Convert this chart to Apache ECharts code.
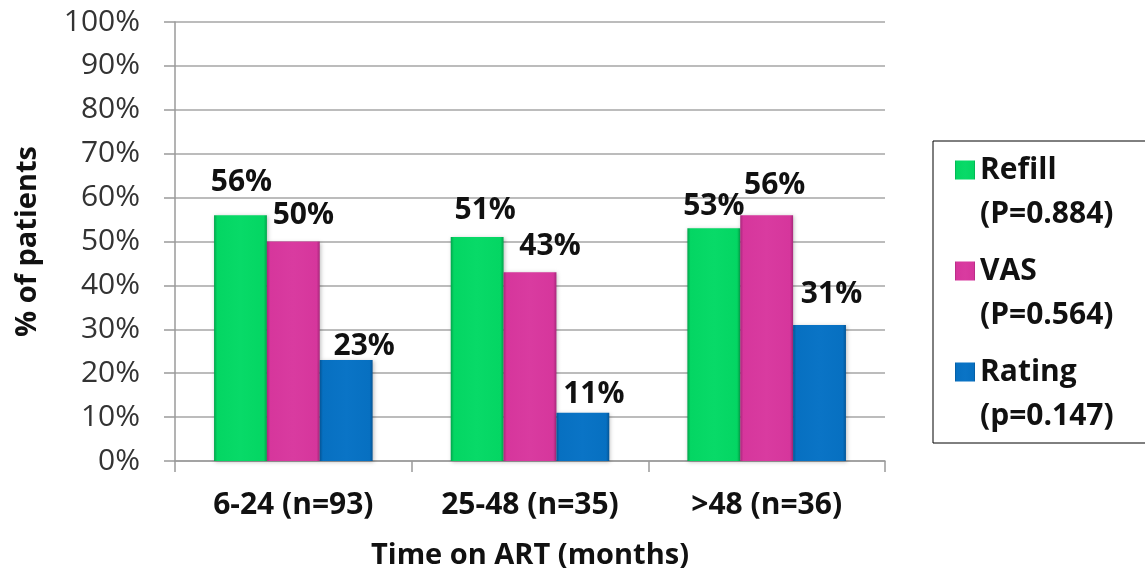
<!DOCTYPE html>
<html>
<head>
<meta charset="utf-8">
<script src="https://cdn.jsdelivr.net/npm/echarts@6/dist/echarts.min.js"></script>
<style>
  html, body { margin: 0; padding: 0; background: #fff; }
  #chart { width: 1145px; height: 575px; }
</style>
</head>
<body>
<div id="chart"></div>
<script>
// Time-on-ART groups and adherence measures (% of patients)
const categories = ['6-24 (n=93)', '25-48 (n=35)', '>48 (n=36)'];
const refill = [56, 51, 53];
const vas = [50, 43, 56];
const rating = [23, 11, 31];
const legendNames = ['Refill', 'VAS', 'Rating'];
const legendNotes = ['(P=0.884)', '(P=0.564)', '(p=0.147)'];
const yTicks = [0, 10, 20, 30, 40, 50, 60, 70, 80, 90, 100];

// hand-placed value labels: [dx, dy] per category
const labelShift = {
  Refill: [[1, -18], [8, -12], [0, -7]],
  VAS: [[10, -11], [20, -11], [8, -15]],
  Rating: [[18, 1], [11, -3], [12, -15]]
};

const FONT = 'Open Sans';

// bevelled look: darker edges across the bar width
function bevel(edge, main, light) {
  return new echarts.graphic.LinearGradient(0, 0, 1, 0, [
    { offset: 0, color: edge },
    { offset: 0.06, color: main },
    { offset: 0.5, color: light },
    { offset: 0.94, color: main },
    { offset: 1, color: edge }
  ]);
}

const palette = {
  Refill: bevel('#02a54c', '#04d663', '#08da68'),
  VAS: bevel('#a8277b', '#d6369c', '#d93ba0'),
  Rating: bevel('#045596', '#0770c1', '#0a74c6')
};

// legend icon: square sitting next to the first text line
const legendIcon = 'path://M0,0 L20,0 L20,19 L0,19 Z M0,63 L20,63';

function makeSeries(name, values) {
  return {
    name: name,
    type: 'bar',
    barGap: '0%',
    barCategoryGap: '33%',
    itemStyle: {
      color: palette[name],
      shadowColor: 'rgba(0,0,0,0.25)',
      shadowBlur: 4,
      shadowOffsetX: 1,
      shadowOffsetY: 1
    },
    label: {
      show: true,
      position: 'top',
      distance: 0,
      formatter: '{c}%',
      fontFamily: FONT,
      fontWeight: 'bold',
      fontSize: 30,
      color: '#111'
    },
    data: values.map((v, i) => ({ value: v, label: { offset: labelShift[name][i] } }))
  };
}

const chart = echarts.init(document.getElementById('chart'), null, { renderer: 'canvas' });

chart.setOption({
  animation: false,
  backgroundColor: '#fff',
  grid: { left: 175, right: 260, top: 22, bottom: 114, containLabel: false },
  legend: {
    orient: 'vertical',
    left: 933,
    top: 141,
    padding: [7, 32, 5, 22],
    itemGap: 13,
    itemWidth: 20,
    itemHeight: 63,
    icon: legendIcon,
    borderColor: '#000',
    borderWidth: 1,
    data: legendNames,
    formatter: function (name) {
      return name + '\n' + legendNotes[legendNames.indexOf(name)];
    },
    textStyle: {
      fontFamily: FONT,
      fontWeight: 'bold',
      fontSize: 30,
      lineHeight: 44,
      color: '#111'
    }
  },
  xAxis: {
    type: 'category',
    data: categories,
    name: 'Time on ART (months)',
    nameLocation: 'middle',
    nameGap: 80,
    nameTextStyle: { fontFamily: FONT, fontWeight: 'bold', fontSize: 29, color: '#111' },
    axisLine: { lineStyle: { color: '#9a9a9a', width: 1.5 } },
    axisTick: { show: true, length: 11, lineStyle: { color: '#9a9a9a', width: 1.5 } },
    axisLabel: { margin: 29, fontFamily: FONT, fontWeight: 'bold', fontSize: 30, color: '#111' }
  },
  yAxis: {
    type: 'value',
    min: yTicks[0],
    max: yTicks[yTicks.length - 1],
    interval: 10,
    name: '% of patients',
    nameLocation: 'middle',
    nameGap: 133,
    nameTextStyle: { fontFamily: FONT, fontWeight: 'bold', fontSize: 29, color: '#111' },
    axisLine: { show: true, lineStyle: { color: '#9a9a9a', width: 1.5 } },
    axisTick: { show: true, length: 11, lineStyle: { color: '#9a9a9a', width: 1.5 } },
    axisLabel: { margin: 35, formatter: '{value}%', fontFamily: FONT, fontSize: 30, color: '#333' },
    splitLine: { show: true, lineStyle: { color: '#a6a6a6', width: 1.5 } }
  },
  series: [
    makeSeries('Refill', refill),
    makeSeries('VAS', vas),
    makeSeries('Rating', rating)
  ]
});
</script>
</body>
</html>
